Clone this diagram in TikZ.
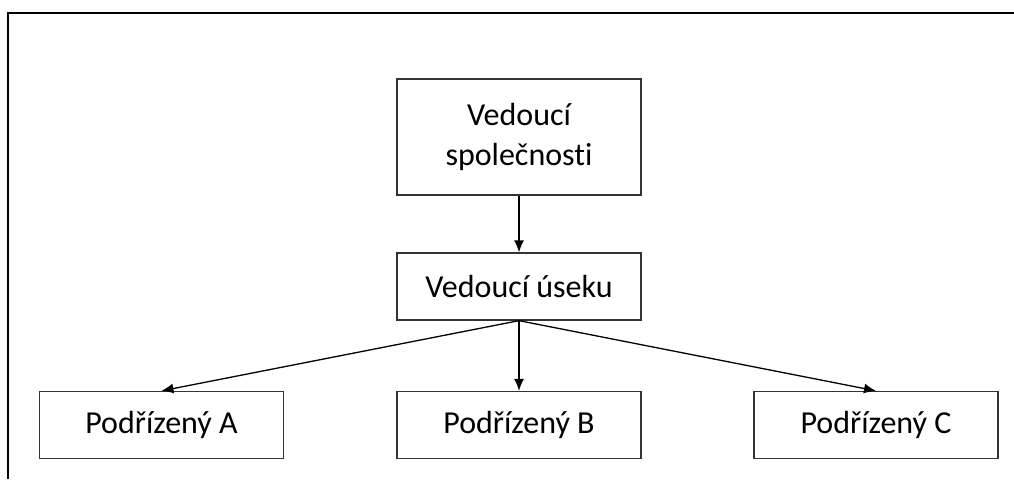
\documentclass[tikz,border=0pt]{standalone}
\usepackage{fontspec}
\setmainfont[Ligatures=NoCommon]{Carlito}
\usepackage{tikz}
\usetikzlibrary{shapes,arrows.meta}
\tikzstyle{boss} = [rectangle, minimum width=244pt, minimum height=116pt, text centered, align=center, draw=black!80, line width=1.3pt, inner sep=0pt]
\tikzstyle{unit} = [rectangle, minimum width=244pt, minimum height=67pt, text centered, draw=black!80, line width=1.3pt, inner sep=0pt]
\tikzstyle{arrow} = [line width=1.3pt,-{Latex[length=12pt,width=10pt]}]

\begin{document}
\begin{tikzpicture}[x=1pt,y=-1pt,font=\fontsize{32}{40}\selectfont]
\useasboundingbox (0,0) rectangle (1014,479);
\draw [line width=2.5pt] (8,479) -- (8,13) -- (1014,13);

\node (boss) [boss] at (519,137) {Vedoucí\\společnosti};
\node (sect) [unit] at (519,286.5) {Vedoucí úseku};
\node (suba) [unit] at (161.5,425) {Podřízený A};
\node (subb) [unit] at (519,425) {Podřízený B};
\node (subc) [unit] at (876,425) {Podřízený C};

\draw [arrow] (boss) -- (sect);
\draw [arrow] (sect.south) -- (suba.north);
\draw [arrow] (sect.south) -- (subb.north);
\draw [arrow] (sect.south) -- (subc.north);
\end{tikzpicture}
\end{document}
